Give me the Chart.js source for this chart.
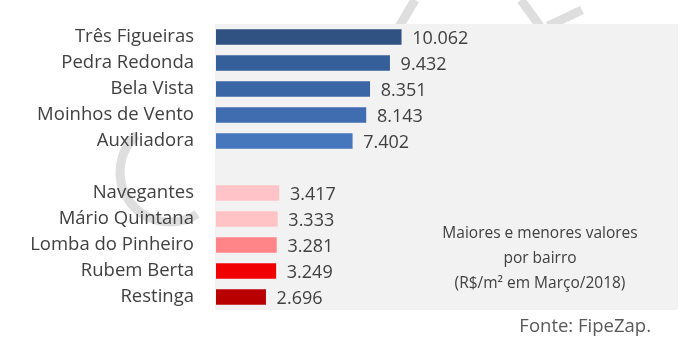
<!DOCTYPE html>
<html><head><meta charset="utf-8">
<script src="https://cdn.jsdelivr.net/npm/chart.js@4"></script>
<style>html,body{margin:0;padding:0;background:#fff}#wrap{width:700px;height:356px;position:relative}</style>
</head><body><div id="wrap"><canvas id="c"></canvas></div>
<script>
const categories = ["Três Figueiras","Pedra Redonda","Bela Vista","Moinhos de Vento","Auxiliadora","","Navegantes","Mário Quintana","Lomba do Pinheiro","Rubem Berta","Restinga"];
const values = [10.062, 9.432, 8.351, 8.143, 7.402, null, 3.417, 3.333, 3.281, 3.249, 2.696];
const valueLabels = ["10.062","9.432","8.351","8.143","7.402","","3.417","3.333","3.281","3.249","2.696"];
const barColors = ["#2f5282","#355f98","#3a66a6","#3f6db0","#4676bb","#ffffff","#ffc3c8","#ffc3c6","#ff8588","#f00000","#b80000"];
const noteLines = ["Maiores e menores valores","por bairro","(R$/m² em Março/2018)"];
const sourceText = "Fonte: FipeZap.";

const FONT = "'Open Sans', 'Noto Sans', sans-serif";
const TXT = "#404040";

const bgPlugin = {
  id:'bg',
  beforeDraw(chart){
    const {ctx, chartArea:a} = chart;
    ctx.save();
    ctx.strokeStyle = '#dedede';
    ctx.lineWidth = 9;
    ctx.lineCap = 'butt';
    ctx.beginPath();
    ctx.arc(170, 172, 50, 57*Math.PI/180, 228*Math.PI/180);
    ctx.stroke();
    ctx.beginPath(); ctx.moveTo(399,27); ctx.lineTo(415,0); ctx.stroke();
    ctx.beginPath(); ctx.moveTo(521,0); ctx.lineTo(540,26); ctx.stroke();
    ctx.beginPath(); ctx.moveTo(548,26); ctx.lineTo(582,10); ctx.stroke();
    ctx.fillStyle = '#f2f2f2';
    ctx.fillRect(a.left-1, a.top, a.right-a.left+1, a.bottom-a.top);
    ctx.restore();
  }
};
const labelPlugin = {
  id:'vals',
  afterDatasetsDraw(chart){
    const {ctx} = chart;
    const meta = chart.getDatasetMeta(0);
    ctx.save();
    ctx.font = "18px " + FONT;
    ctx.fillStyle = TXT;
    ctx.textBaseline = 'middle';
    ctx.textAlign = 'left';
    meta.data.forEach((b,i)=>{
      if (values[i]==null) return;
      ctx.fillText(valueLabels[i], b.x + 11, b.y + 2);
    });
    ctx.textAlign = 'center';
    ctx.font = "15.5px " + FONT;
    const cx = 540;
    noteLines.forEach((t,i)=>ctx.fillText(t, cx, 234 + i*25));
    ctx.textAlign = 'right';
    ctx.font = "18.5px " + FONT;
    ctx.fillStyle = '#595959';
    ctx.fillText(sourceText, 651, 327);
    ctx.restore();
  }
};

new Chart(document.getElementById('c'), {
  type:'bar',
  data:{labels:categories, datasets:[{data:values, backgroundColor:barColors, borderWidth:0, barThickness:15}]},
  options:{
    indexAxis:'y',
    responsive:true, maintainAspectRatio:false, animation:false,
    layout:{padding:{top:24,bottom:46,left:0,right:22}},
    plugins:{legend:{display:false}, tooltip:{enabled:false}},
    scales:{
      x:{min:0,max:25.1,display:false,grid:{display:false}},
      y:{
        grid:{display:false,drawTicks:false}, border:{display:false},
        ticks:{color:TXT,font:{family:FONT,size:18.5},padding:22,autoSkip:false},
        afterFit(s){ s.width = 216; s.paddingTop = 0; s.paddingBottom = 0; }
      }
    }
  },
  plugins:[bgPlugin,labelPlugin]
});
</script></body></html>
